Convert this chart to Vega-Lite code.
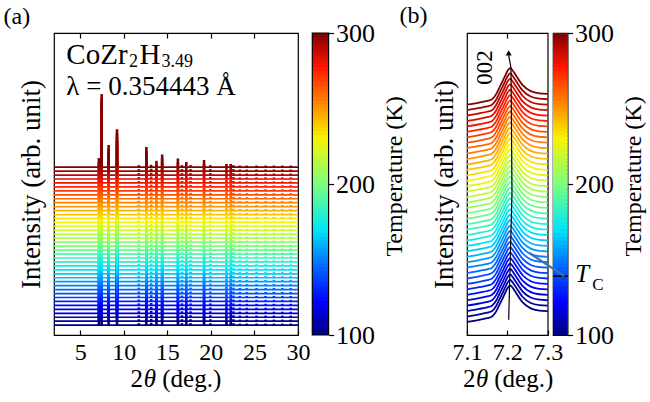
{
  "$schema": "https://vega.github.io/schema/vega-lite/v6.json",
  "background": "white",
  "padding": {"left": 2, "top": 3, "right": 0, "bottom": 0},
  "config": {
    "font": "Liberation Serif",
    "view": {"stroke": "black", "strokeWidth": 1.2},
    "axis": {
      "grid": false, "domain": false, "labelFont": "Liberation Serif", "titleFont": "Liberation Serif",
      "labelFontSize": 24, "titleFontSize": 25, "titleFontWeight": "normal",
      "labelColor": "black", "titleColor": "black", "tickColor": "black", "tickWidth": 1.2,
      "labelFlush": false, "labelOverlap": false
    },
    "text": {"font": "Liberation Serif", "color": "black"}
  },
  "datasets": {
    "peaksA": [
      {"pk": "a", "px": 7.15}, {"pk": "b", "px": 7.47}, {"pk": "c", "px": 8.27}, {"pk": "d", "px": 9.23},
      {"pk": "e", "px": 11.73}, {"pk": "f", "px": 12.6}, {"pk": "g", "px": 13.15}, {"pk": "h", "px": 13.76},
      {"pk": "i", "px": 14.41}, {"pk": "j", "px": 16.22}, {"pk": "k", "px": 16.68}, {"pk": "l", "px": 17.18},
      {"pk": "m", "px": 17.67}, {"pk": "n", "px": 19.22}, {"pk": "o", "px": 19.94}, {"pk": "p", "px": 21.79},
      {"pk": "q", "px": 22.28}, {"pk": "r", "px": 22.59}, {"pk": "s", "px": 23.32}, {"pk": "t", "px": 24.12},
      {"pk": "u", "px": 25.24}, {"pk": "v", "px": 26.28}, {"pk": "w", "px": 27.23}, {"pk": "x", "px": 28.2},
      {"pk": "y", "px": 29.16}
    ],
    "curvesA": [
      {"T":100,"B":2.5,"a":4.8,"b":21,"c":8.1,"d":12.1,"e":3,"f":7.6,"g":3.1,"h":4.1,"i":5.7,"j":4.7,"k":3,"l":3.8,"m":3,"n":4.3,"o":3,"p":3.3,"q":3.3,"r":3,"s":2.9,"t":2.9,"u":2.9,"v":2.9,"w":2.9,"x":2.9,"y":2.9},
      {"T":105,"B":3.5,"a":5.8,"b":22,"c":9.1,"d":13.1,"e":4,"f":8.6,"g":4.1,"h":5.1,"i":6.7,"j":5.7,"k":4,"l":4.8,"m":4,"n":5.3,"o":4,"p":4.3,"q":4.3,"r":4,"s":3.9,"t":3.9,"u":3.9,"v":3.9,"w":3.9,"x":3.9,"y":3.9},
      {"T":110,"B":4.5,"a":6.8,"b":23,"c":10.1,"d":14.1,"e":5,"f":9.6,"g":5.1,"h":6.1,"i":7.7,"j":6.7,"k":5,"l":5.8,"m":5,"n":6.3,"o":5,"p":5.3,"q":5.3,"r":5,"s":4.9,"t":4.9,"u":4.9,"v":4.9,"w":4.9,"x":4.9,"y":4.9},
      {"T":115,"B":5.5,"a":7.8,"b":24,"c":11.1,"d":15.1,"e":6,"f":10.6,"g":6.1,"h":7.1,"i":8.7,"j":7.7,"k":6,"l":6.8,"m":6,"n":7.3,"o":6,"p":6.3,"q":6.3,"r":6,"s":5.9,"t":5.9,"u":5.9,"v":5.9,"w":5.9,"x":5.9,"y":5.9},
      {"T":120,"B":6.5,"a":8.8,"b":25,"c":12.1,"d":16.1,"e":7,"f":11.6,"g":7.1,"h":8.1,"i":9.7,"j":8.7,"k":7,"l":7.8,"m":7,"n":8.3,"o":7,"p":7.3,"q":7.3,"r":7,"s":6.9,"t":6.9,"u":6.9,"v":6.9,"w":6.9,"x":6.9,"y":6.9},
      {"T":125,"B":7.5,"a":9.8,"b":26,"c":13.1,"d":17.1,"e":8,"f":12.6,"g":8.1,"h":9.1,"i":10.7,"j":9.7,"k":8,"l":8.8,"m":8,"n":9.3,"o":8,"p":8.3,"q":8.3,"r":8,"s":7.9,"t":7.9,"u":7.9,"v":7.9,"w":7.9,"x":7.9,"y":7.9},
      {"T":130,"B":8.5,"a":10.8,"b":27,"c":14.1,"d":18.1,"e":9,"f":13.6,"g":9.1,"h":10.1,"i":11.7,"j":10.7,"k":9,"l":9.8,"m":9,"n":10.3,"o":9,"p":9.3,"q":9.3,"r":9,"s":8.9,"t":8.9,"u":8.9,"v":8.9,"w":8.9,"x":8.9,"y":8.9},
      {"T":135,"B":9.5,"a":11.8,"b":28,"c":15.1,"d":19.1,"e":10,"f":14.6,"g":10.1,"h":11.1,"i":12.7,"j":11.7,"k":10,"l":10.8,"m":10,"n":11.3,"o":10,"p":10.3,"q":10.3,"r":10,"s":9.9,"t":9.9,"u":9.9,"v":9.9,"w":9.9,"x":9.9,"y":9.9},
      {"T":140,"B":10.5,"a":12.8,"b":29,"c":16.1,"d":20.1,"e":11,"f":15.6,"g":11.1,"h":12.1,"i":13.7,"j":12.7,"k":11,"l":11.8,"m":11,"n":12.3,"o":11,"p":11.3,"q":11.3,"r":11,"s":10.9,"t":10.9,"u":10.9,"v":10.9,"w":10.9,"x":10.9,"y":10.9},
      {"T":145,"B":11.5,"a":13.8,"b":30,"c":17.1,"d":21.1,"e":12,"f":16.6,"g":12.1,"h":13.1,"i":14.7,"j":13.7,"k":12,"l":12.8,"m":12,"n":13.3,"o":12,"p":12.3,"q":12.3,"r":12,"s":11.9,"t":11.9,"u":11.9,"v":11.9,"w":11.9,"x":11.9,"y":11.9},
      {"T":150,"B":12.5,"a":14.8,"b":31,"c":18.1,"d":22.1,"e":13,"f":17.6,"g":13.1,"h":14.1,"i":15.7,"j":14.7,"k":13,"l":13.8,"m":13,"n":14.3,"o":13,"p":13.3,"q":13.3,"r":13,"s":12.9,"t":12.9,"u":12.9,"v":12.9,"w":12.9,"x":12.9,"y":12.9},
      {"T":155,"B":13.5,"a":15.8,"b":32,"c":19.1,"d":23.1,"e":14,"f":18.6,"g":14.1,"h":15.1,"i":16.7,"j":15.7,"k":14,"l":14.8,"m":14,"n":15.3,"o":14,"p":14.3,"q":14.3,"r":14,"s":13.9,"t":13.9,"u":13.9,"v":13.9,"w":13.9,"x":13.9,"y":13.9},
      {"T":160,"B":14.5,"a":16.8,"b":33,"c":20.1,"d":24.1,"e":15,"f":19.6,"g":15.1,"h":16.1,"i":17.7,"j":16.7,"k":15,"l":15.8,"m":15,"n":16.3,"o":15,"p":15.3,"q":15.3,"r":15,"s":14.9,"t":14.9,"u":14.9,"v":14.9,"w":14.9,"x":14.9,"y":14.9},
      {"T":165,"B":15.5,"a":17.8,"b":34,"c":21.1,"d":25.1,"e":16,"f":20.6,"g":16.1,"h":17.1,"i":18.7,"j":17.7,"k":16,"l":16.8,"m":16,"n":17.3,"o":16,"p":16.3,"q":16.3,"r":16,"s":15.9,"t":15.9,"u":15.9,"v":15.9,"w":15.9,"x":15.9,"y":15.9},
      {"T":170,"B":16.5,"a":18.8,"b":35,"c":22.1,"d":26.1,"e":17,"f":21.6,"g":17.1,"h":18.1,"i":19.7,"j":18.7,"k":17,"l":17.8,"m":17,"n":18.3,"o":17,"p":17.3,"q":17.3,"r":17,"s":16.9,"t":16.9,"u":16.9,"v":16.9,"w":16.9,"x":16.9,"y":16.9},
      {"T":175,"B":17.5,"a":19.8,"b":36,"c":23.1,"d":27.1,"e":18,"f":22.6,"g":18.1,"h":19.1,"i":20.7,"j":19.7,"k":18,"l":18.8,"m":18,"n":19.3,"o":18,"p":18.3,"q":18.3,"r":18,"s":17.9,"t":17.9,"u":17.9,"v":17.9,"w":17.9,"x":17.9,"y":17.9},
      {"T":180,"B":18.5,"a":20.8,"b":37,"c":24.1,"d":28.1,"e":19,"f":23.6,"g":19.1,"h":20.1,"i":21.7,"j":20.7,"k":19,"l":19.8,"m":19,"n":20.3,"o":19,"p":19.3,"q":19.3,"r":19,"s":18.9,"t":18.9,"u":18.9,"v":18.9,"w":18.9,"x":18.9,"y":18.9},
      {"T":185,"B":19.5,"a":21.8,"b":38,"c":25.1,"d":29.1,"e":20,"f":24.6,"g":20.1,"h":21.1,"i":22.7,"j":21.7,"k":20,"l":20.8,"m":20,"n":21.3,"o":20,"p":20.3,"q":20.3,"r":20,"s":19.9,"t":19.9,"u":19.9,"v":19.9,"w":19.9,"x":19.9,"y":19.9},
      {"T":190,"B":20.5,"a":22.8,"b":39,"c":26.1,"d":30.1,"e":21,"f":25.6,"g":21.1,"h":22.1,"i":23.7,"j":22.7,"k":21,"l":21.8,"m":21,"n":22.3,"o":21,"p":21.3,"q":21.3,"r":21,"s":20.9,"t":20.9,"u":20.9,"v":20.9,"w":20.9,"x":20.9,"y":20.9},
      {"T":195,"B":21.5,"a":23.8,"b":40,"c":27.1,"d":31.1,"e":22,"f":26.6,"g":22.1,"h":23.1,"i":24.7,"j":23.7,"k":22,"l":22.8,"m":22,"n":23.3,"o":22,"p":22.3,"q":22.3,"r":22,"s":21.9,"t":21.9,"u":21.9,"v":21.9,"w":21.9,"x":21.9,"y":21.9},
      {"T":200,"B":22.5,"a":24.8,"b":41,"c":28.1,"d":32.1,"e":23,"f":27.6,"g":23.1,"h":24.1,"i":25.7,"j":24.7,"k":23,"l":23.8,"m":23,"n":24.3,"o":23,"p":23.3,"q":23.3,"r":23,"s":22.9,"t":22.9,"u":22.9,"v":22.9,"w":22.9,"x":22.9,"y":22.9},
      {"T":205,"B":23.5,"a":25.8,"b":42,"c":29.1,"d":33.1,"e":24,"f":28.6,"g":24.1,"h":25.1,"i":26.7,"j":25.7,"k":24,"l":24.8,"m":24,"n":25.3,"o":24,"p":24.3,"q":24.3,"r":24,"s":23.9,"t":23.9,"u":23.9,"v":23.9,"w":23.9,"x":23.9,"y":23.9},
      {"T":210,"B":24.5,"a":26.8,"b":43,"c":30.1,"d":34.1,"e":25,"f":29.6,"g":25.1,"h":26.1,"i":27.7,"j":26.7,"k":25,"l":25.8,"m":25,"n":26.3,"o":25,"p":25.3,"q":25.3,"r":25,"s":24.9,"t":24.9,"u":24.9,"v":24.9,"w":24.9,"x":24.9,"y":24.9},
      {"T":215,"B":25.5,"a":27.8,"b":44,"c":31.1,"d":35.1,"e":26,"f":30.6,"g":26.1,"h":27.1,"i":28.7,"j":27.7,"k":26,"l":26.8,"m":26,"n":27.3,"o":26,"p":26.3,"q":26.3,"r":26,"s":25.9,"t":25.9,"u":25.9,"v":25.9,"w":25.9,"x":25.9,"y":25.9},
      {"T":220,"B":26.5,"a":28.8,"b":45,"c":32.1,"d":36.1,"e":27,"f":31.6,"g":27.1,"h":28.1,"i":29.7,"j":28.7,"k":27,"l":27.8,"m":27,"n":28.3,"o":27,"p":27.3,"q":27.3,"r":27,"s":26.9,"t":26.9,"u":26.9,"v":26.9,"w":26.9,"x":26.9,"y":26.9},
      {"T":225,"B":27.5,"a":29.8,"b":46,"c":33.1,"d":37.1,"e":28,"f":32.6,"g":28.1,"h":29.1,"i":30.7,"j":29.7,"k":28,"l":28.8,"m":28,"n":29.3,"o":28,"p":28.3,"q":28.3,"r":28,"s":27.9,"t":27.9,"u":27.9,"v":27.9,"w":27.9,"x":27.9,"y":27.9},
      {"T":230,"B":28.5,"a":30.8,"b":47,"c":34.1,"d":38.1,"e":29,"f":33.6,"g":29.1,"h":30.1,"i":31.7,"j":30.7,"k":29,"l":29.8,"m":29,"n":30.3,"o":29,"p":29.3,"q":29.3,"r":29,"s":28.9,"t":28.9,"u":28.9,"v":28.9,"w":28.9,"x":28.9,"y":28.9},
      {"T":235,"B":29.5,"a":31.8,"b":48,"c":35.1,"d":39.1,"e":30,"f":34.6,"g":30.1,"h":31.1,"i":32.7,"j":31.7,"k":30,"l":30.8,"m":30,"n":31.3,"o":30,"p":30.3,"q":30.3,"r":30,"s":29.9,"t":29.9,"u":29.9,"v":29.9,"w":29.9,"x":29.9,"y":29.9},
      {"T":240,"B":30.5,"a":32.8,"b":49,"c":36.1,"d":40.1,"e":31,"f":35.6,"g":31.1,"h":32.1,"i":33.7,"j":32.7,"k":31,"l":31.8,"m":31,"n":32.3,"o":31,"p":31.3,"q":31.3,"r":31,"s":30.9,"t":30.9,"u":30.9,"v":30.9,"w":30.9,"x":30.9,"y":30.9},
      {"T":245,"B":31.5,"a":33.8,"b":50,"c":37.1,"d":41.1,"e":32,"f":36.6,"g":32.1,"h":33.1,"i":34.7,"j":33.7,"k":32,"l":32.8,"m":32,"n":33.3,"o":32,"p":32.3,"q":32.3,"r":32,"s":31.9,"t":31.9,"u":31.9,"v":31.9,"w":31.9,"x":31.9,"y":31.9},
      {"T":250,"B":32.5,"a":34.8,"b":51,"c":38.1,"d":42.1,"e":33,"f":37.6,"g":33.1,"h":34.1,"i":35.7,"j":34.7,"k":33,"l":33.8,"m":33,"n":34.3,"o":33,"p":33.3,"q":33.3,"r":33,"s":32.9,"t":32.9,"u":32.9,"v":32.9,"w":32.9,"x":32.9,"y":32.9},
      {"T":255,"B":33.5,"a":35.8,"b":52,"c":39.1,"d":43.1,"e":34,"f":38.6,"g":34.1,"h":35.1,"i":36.7,"j":35.7,"k":34,"l":34.8,"m":34,"n":35.3,"o":34,"p":34.3,"q":34.3,"r":34,"s":33.9,"t":33.9,"u":33.9,"v":33.9,"w":33.9,"x":33.9,"y":33.9},
      {"T":260,"B":34.5,"a":36.8,"b":53,"c":40.1,"d":44.1,"e":35,"f":39.6,"g":35.1,"h":36.1,"i":37.7,"j":36.7,"k":35,"l":35.8,"m":35,"n":36.3,"o":35,"p":35.3,"q":35.3,"r":35,"s":34.9,"t":34.9,"u":34.9,"v":34.9,"w":34.9,"x":34.9,"y":34.9},
      {"T":265,"B":35.5,"a":37.8,"b":54,"c":41.1,"d":45.1,"e":36,"f":40.6,"g":36.1,"h":37.1,"i":38.7,"j":37.7,"k":36,"l":36.8,"m":36,"n":37.3,"o":36,"p":36.3,"q":36.3,"r":36,"s":35.9,"t":35.9,"u":35.9,"v":35.9,"w":35.9,"x":35.9,"y":35.9},
      {"T":270,"B":36.5,"a":38.8,"b":55,"c":42.1,"d":46.1,"e":37,"f":41.6,"g":37.1,"h":38.1,"i":39.7,"j":38.7,"k":37,"l":37.8,"m":37,"n":38.3,"o":37,"p":37.3,"q":37.3,"r":37,"s":36.9,"t":36.9,"u":36.9,"v":36.9,"w":36.9,"x":36.9,"y":36.9},
      {"T":275,"B":37.5,"a":39.8,"b":56,"c":43.1,"d":47.1,"e":38,"f":42.6,"g":38.1,"h":39.1,"i":40.7,"j":39.7,"k":38,"l":38.8,"m":38,"n":39.3,"o":38,"p":38.3,"q":38.3,"r":38,"s":37.9,"t":37.9,"u":37.9,"v":37.9,"w":37.9,"x":37.9,"y":37.9},
      {"T":280,"B":38.5,"a":40.8,"b":57,"c":44.1,"d":48.1,"e":39,"f":43.6,"g":39.1,"h":40.1,"i":41.7,"j":40.7,"k":39,"l":39.8,"m":39,"n":40.3,"o":39,"p":39.3,"q":39.3,"r":39,"s":38.9,"t":38.9,"u":38.9,"v":38.9,"w":38.9,"x":38.9,"y":38.9},
      {"T":285,"B":39.5,"a":41.8,"b":58,"c":45.1,"d":49.1,"e":40,"f":44.6,"g":40.1,"h":41.1,"i":42.7,"j":41.7,"k":40,"l":40.8,"m":40,"n":41.3,"o":40,"p":40.3,"q":40.3,"r":40,"s":39.9,"t":39.9,"u":39.9,"v":39.9,"w":39.9,"x":39.9,"y":39.9},
      {"T":290,"B":40.5,"a":42.8,"b":59,"c":46.1,"d":50.1,"e":41,"f":45.6,"g":41.1,"h":42.1,"i":43.7,"j":42.7,"k":41,"l":41.8,"m":41,"n":42.3,"o":41,"p":41.3,"q":41.3,"r":41,"s":40.9,"t":40.9,"u":40.9,"v":40.9,"w":40.9,"x":40.9,"y":40.9},
      {"T":295,"B":41.5,"a":43.8,"b":60,"c":47.1,"d":51.1,"e":42,"f":46.6,"g":42.1,"h":43.1,"i":44.7,"j":43.7,"k":42,"l":42.8,"m":42,"n":43.3,"o":42,"p":42.3,"q":42.3,"r":42,"s":41.9,"t":41.9,"u":41.9,"v":41.9,"w":41.9,"x":41.9,"y":41.9},
      {"T":300,"B":42.5,"a":44.8,"b":61,"c":48.1,"d":52.1,"e":43,"f":47.6,"g":43.1,"h":44.1,"i":45.7,"j":44.7,"k":43,"l":43.8,"m":43,"n":44.3,"o":43,"p":43.3,"q":43.3,"r":43,"s":42.9,"t":42.9,"u":42.9,"v":42.9,"w":42.9,"x":42.9,"y":42.9}
    ],
    "ptsB": [
      {"pk": "a", "x": 7.1}, {"pk": "b", "x": 7.13}, {"pk": "c", "x": 7.15}, {"pk": "d", "x": 7.162},
      {"pk": "e", "x": 7.172}, {"pk": "f", "x": 7.18}, {"pk": "g", "x": 7.188}, {"pk": "h", "x": 7.195},
      {"pk": "i", "x": 7.201}, {"pk": "j", "x": 7.207}, {"pk": "k", "x": 7.214}, {"pk": "l", "x": 7.222},
      {"pk": "m", "x": 7.238}, {"pk": "n", "x": 7.258}, {"pk": "o", "x": 7.279}, {"pk": "p", "x": 7.3}
    ],
    "curvesB": [
      {"T":100,"a":2.4,"b":2.8,"c":3.1,"d":3.4,"e":4.3,"f":5.5,"g":6.7,"h":7.8,"i":8.7,"j":9.15,"k":8.6,"l":7.7,"m":6,"n":4.9,"o":4.5,"p":4.4},
      {"T":105,"a":3.4,"b":3.8,"c":4.1,"d":4.4,"e":5.3,"f":6.5,"g":7.7,"h":8.8,"i":9.7,"j":10.15,"k":9.6,"l":8.7,"m":7,"n":5.9,"o":5.5,"p":5.4},
      {"T":110,"a":4.4,"b":4.8,"c":5.1,"d":5.4,"e":6.3,"f":7.5,"g":8.7,"h":9.8,"i":10.7,"j":11.15,"k":10.6,"l":9.7,"m":8,"n":6.9,"o":6.5,"p":6.4},
      {"T":115,"a":5.4,"b":5.8,"c":6.1,"d":6.4,"e":7.3,"f":8.5,"g":9.7,"h":10.8,"i":11.7,"j":12.15,"k":11.6,"l":10.7,"m":9,"n":7.9,"o":7.5,"p":7.4},
      {"T":120,"a":6.4,"b":6.8,"c":7.1,"d":7.4,"e":8.3,"f":9.5,"g":10.7,"h":11.8,"i":12.7,"j":13.15,"k":12.6,"l":11.7,"m":10,"n":8.9,"o":8.5,"p":8.4},
      {"T":125,"a":7.4,"b":7.8,"c":8.1,"d":8.4,"e":9.3,"f":10.5,"g":11.7,"h":12.8,"i":13.7,"j":14.15,"k":13.6,"l":12.7,"m":11,"n":9.9,"o":9.5,"p":9.4},
      {"T":130,"a":8.4,"b":8.8,"c":9.1,"d":9.4,"e":10.3,"f":11.5,"g":12.7,"h":13.8,"i":14.7,"j":15.15,"k":14.6,"l":13.7,"m":12,"n":10.9,"o":10.5,"p":10.4},
      {"T":135,"a":9.4,"b":9.8,"c":10.1,"d":10.4,"e":11.3,"f":12.5,"g":13.7,"h":14.8,"i":15.7,"j":16.15,"k":15.6,"l":14.7,"m":13,"n":11.9,"o":11.5,"p":11.4},
      {"T":140,"a":10.4,"b":10.8,"c":11.1,"d":11.4,"e":12.3,"f":13.5,"g":14.7,"h":15.8,"i":16.7,"j":17.15,"k":16.6,"l":15.7,"m":14,"n":12.9,"o":12.5,"p":12.4},
      {"T":145,"a":11.4,"b":11.8,"c":12.1,"d":12.4,"e":13.3,"f":14.5,"g":15.7,"h":16.8,"i":17.7,"j":18.15,"k":17.6,"l":16.7,"m":15,"n":13.9,"o":13.5,"p":13.4},
      {"T":150,"a":12.4,"b":12.8,"c":13.1,"d":13.4,"e":14.3,"f":15.5,"g":16.7,"h":17.8,"i":18.7,"j":19.15,"k":18.6,"l":17.7,"m":16,"n":14.9,"o":14.5,"p":14.4},
      {"T":155,"a":13.4,"b":13.8,"c":14.1,"d":14.4,"e":15.3,"f":16.5,"g":17.7,"h":18.8,"i":19.7,"j":20.15,"k":19.6,"l":18.7,"m":17,"n":15.9,"o":15.5,"p":15.4},
      {"T":160,"a":14.4,"b":14.8,"c":15.1,"d":15.4,"e":16.3,"f":17.5,"g":18.7,"h":19.8,"i":20.7,"j":21.15,"k":20.6,"l":19.7,"m":18,"n":16.9,"o":16.5,"p":16.4},
      {"T":165,"a":15.4,"b":15.8,"c":16.1,"d":16.4,"e":17.3,"f":18.5,"g":19.7,"h":20.8,"i":21.7,"j":22.15,"k":21.6,"l":20.7,"m":19,"n":17.9,"o":17.5,"p":17.4},
      {"T":170,"a":16.4,"b":16.8,"c":17.1,"d":17.4,"e":18.3,"f":19.5,"g":20.7,"h":21.8,"i":22.7,"j":23.15,"k":22.6,"l":21.7,"m":20,"n":18.9,"o":18.5,"p":18.4},
      {"T":175,"a":17.4,"b":17.8,"c":18.1,"d":18.4,"e":19.3,"f":20.5,"g":21.7,"h":22.8,"i":23.7,"j":24.15,"k":23.6,"l":22.7,"m":21,"n":19.9,"o":19.5,"p":19.4},
      {"T":180,"a":18.4,"b":18.8,"c":19.1,"d":19.4,"e":20.3,"f":21.5,"g":22.7,"h":23.8,"i":24.7,"j":25.15,"k":24.6,"l":23.7,"m":22,"n":20.9,"o":20.5,"p":20.4},
      {"T":185,"a":19.4,"b":19.8,"c":20.1,"d":20.4,"e":21.3,"f":22.5,"g":23.7,"h":24.8,"i":25.7,"j":26.15,"k":25.6,"l":24.7,"m":23,"n":21.9,"o":21.5,"p":21.4},
      {"T":190,"a":20.4,"b":20.8,"c":21.1,"d":21.4,"e":22.3,"f":23.5,"g":24.7,"h":25.8,"i":26.7,"j":27.15,"k":26.6,"l":25.7,"m":24,"n":22.9,"o":22.5,"p":22.4},
      {"T":195,"a":21.4,"b":21.8,"c":22.1,"d":22.4,"e":23.3,"f":24.5,"g":25.7,"h":26.8,"i":27.7,"j":28.15,"k":27.6,"l":26.7,"m":25,"n":23.9,"o":23.5,"p":23.4},
      {"T":200,"a":22.4,"b":22.8,"c":23.1,"d":23.4,"e":24.3,"f":25.5,"g":26.7,"h":27.8,"i":28.7,"j":29.15,"k":28.6,"l":27.7,"m":26,"n":24.9,"o":24.5,"p":24.4},
      {"T":205,"a":23.4,"b":23.8,"c":24.1,"d":24.4,"e":25.3,"f":26.5,"g":27.7,"h":28.8,"i":29.7,"j":30.15,"k":29.6,"l":28.7,"m":27,"n":25.9,"o":25.5,"p":25.4},
      {"T":210,"a":24.4,"b":24.8,"c":25.1,"d":25.4,"e":26.3,"f":27.5,"g":28.7,"h":29.8,"i":30.7,"j":31.15,"k":30.6,"l":29.7,"m":28,"n":26.9,"o":26.5,"p":26.4},
      {"T":215,"a":25.4,"b":25.8,"c":26.1,"d":26.4,"e":27.3,"f":28.5,"g":29.7,"h":30.8,"i":31.7,"j":32.15,"k":31.6,"l":30.7,"m":29,"n":27.9,"o":27.5,"p":27.4},
      {"T":220,"a":26.4,"b":26.8,"c":27.1,"d":27.4,"e":28.3,"f":29.5,"g":30.7,"h":31.8,"i":32.7,"j":33.15,"k":32.6,"l":31.7,"m":30,"n":28.9,"o":28.5,"p":28.4},
      {"T":225,"a":27.4,"b":27.8,"c":28.1,"d":28.4,"e":29.3,"f":30.5,"g":31.7,"h":32.8,"i":33.7,"j":34.15,"k":33.6,"l":32.7,"m":31,"n":29.9,"o":29.5,"p":29.4},
      {"T":230,"a":28.4,"b":28.8,"c":29.1,"d":29.4,"e":30.3,"f":31.5,"g":32.7,"h":33.8,"i":34.7,"j":35.15,"k":34.6,"l":33.7,"m":32,"n":30.9,"o":30.5,"p":30.4},
      {"T":235,"a":29.4,"b":29.8,"c":30.1,"d":30.4,"e":31.3,"f":32.5,"g":33.7,"h":34.8,"i":35.7,"j":36.15,"k":35.6,"l":34.7,"m":33,"n":31.9,"o":31.5,"p":31.4},
      {"T":240,"a":30.4,"b":30.8,"c":31.1,"d":31.4,"e":32.3,"f":33.5,"g":34.7,"h":35.8,"i":36.7,"j":37.15,"k":36.6,"l":35.7,"m":34,"n":32.9,"o":32.5,"p":32.4},
      {"T":245,"a":31.4,"b":31.8,"c":32.1,"d":32.4,"e":33.3,"f":34.5,"g":35.7,"h":36.8,"i":37.7,"j":38.15,"k":37.6,"l":36.7,"m":35,"n":33.9,"o":33.5,"p":33.4},
      {"T":250,"a":32.4,"b":32.8,"c":33.1,"d":33.4,"e":34.3,"f":35.5,"g":36.7,"h":37.8,"i":38.7,"j":39.15,"k":38.6,"l":37.7,"m":36,"n":34.9,"o":34.5,"p":34.4},
      {"T":255,"a":33.4,"b":33.8,"c":34.1,"d":34.4,"e":35.3,"f":36.5,"g":37.7,"h":38.8,"i":39.7,"j":40.15,"k":39.6,"l":38.7,"m":37,"n":35.9,"o":35.5,"p":35.4},
      {"T":260,"a":34.4,"b":34.8,"c":35.1,"d":35.4,"e":36.3,"f":37.5,"g":38.7,"h":39.8,"i":40.7,"j":41.15,"k":40.6,"l":39.7,"m":38,"n":36.9,"o":36.5,"p":36.4},
      {"T":265,"a":35.4,"b":35.8,"c":36.1,"d":36.4,"e":37.3,"f":38.5,"g":39.7,"h":40.8,"i":41.7,"j":42.15,"k":41.6,"l":40.7,"m":39,"n":37.9,"o":37.5,"p":37.4},
      {"T":270,"a":36.4,"b":36.8,"c":37.1,"d":37.4,"e":38.3,"f":39.5,"g":40.7,"h":41.8,"i":42.7,"j":43.15,"k":42.6,"l":41.7,"m":40,"n":38.9,"o":38.5,"p":38.4},
      {"T":275,"a":37.4,"b":37.8,"c":38.1,"d":38.4,"e":39.3,"f":40.5,"g":41.7,"h":42.8,"i":43.7,"j":44.15,"k":43.6,"l":42.7,"m":41,"n":39.9,"o":39.5,"p":39.4},
      {"T":280,"a":38.4,"b":38.8,"c":39.1,"d":39.4,"e":40.3,"f":41.5,"g":42.7,"h":43.8,"i":44.7,"j":45.15,"k":44.6,"l":43.7,"m":42,"n":40.9,"o":40.5,"p":40.4},
      {"T":285,"a":39.4,"b":39.8,"c":40.1,"d":40.4,"e":41.3,"f":42.5,"g":43.7,"h":44.8,"i":45.7,"j":46.15,"k":45.6,"l":44.7,"m":43,"n":41.9,"o":41.5,"p":41.4},
      {"T":290,"a":40.4,"b":40.8,"c":41.1,"d":41.4,"e":42.3,"f":43.5,"g":44.7,"h":45.8,"i":46.7,"j":47.15,"k":46.6,"l":45.7,"m":44,"n":42.9,"o":42.5,"p":42.4},
      {"T":295,"a":41.4,"b":41.8,"c":42.1,"d":42.4,"e":43.3,"f":44.5,"g":45.7,"h":46.8,"i":47.7,"j":48.15,"k":47.6,"l":46.7,"m":45,"n":43.9,"o":43.5,"p":43.4},
      {"T":300,"a":42.4,"b":42.8,"c":43.1,"d":43.4,"e":44.3,"f":45.5,"g":46.7,"h":47.8,"i":48.7,"j":49.15,"k":48.6,"l":47.7,"m":46,"n":44.9,"o":44.5,"p":44.4}
    ],
    "trace": [
      {"x": 7.2033, "y": 2.8}, {"x": 7.2115, "y": 26.3}, {"x": 7.209, "y": 49.2}, {"x": 7.2033, "y": 51.5}
    ],
    "bar": [
      {"lo":100,"hi":103.5,"T":101.25},{"lo":102.5,"hi":106,"T":103.75},{"lo":105,"hi":108.5,"T":106.25},{"lo":107.5,"hi":111,"T":108.75},
      {"lo":110,"hi":113.5,"T":111.25},{"lo":112.5,"hi":116,"T":113.75},{"lo":115,"hi":118.5,"T":116.25},{"lo":117.5,"hi":121,"T":118.75},
      {"lo":120,"hi":123.5,"T":121.25},{"lo":122.5,"hi":126,"T":123.75},{"lo":125,"hi":128.5,"T":126.25},{"lo":127.5,"hi":131,"T":128.75},
      {"lo":130,"hi":133.5,"T":131.25},{"lo":132.5,"hi":136,"T":133.75},{"lo":135,"hi":138.5,"T":136.25},{"lo":137.5,"hi":141,"T":138.75},
      {"lo":140,"hi":143.5,"T":141.25},{"lo":142.5,"hi":146,"T":143.75},{"lo":145,"hi":148.5,"T":146.25},{"lo":147.5,"hi":151,"T":148.75},
      {"lo":150,"hi":153.5,"T":151.25},{"lo":152.5,"hi":156,"T":153.75},{"lo":155,"hi":158.5,"T":156.25},{"lo":157.5,"hi":161,"T":158.75},
      {"lo":160,"hi":163.5,"T":161.25},{"lo":162.5,"hi":166,"T":163.75},{"lo":165,"hi":168.5,"T":166.25},{"lo":167.5,"hi":171,"T":168.75},
      {"lo":170,"hi":173.5,"T":171.25},{"lo":172.5,"hi":176,"T":173.75},{"lo":175,"hi":178.5,"T":176.25},{"lo":177.5,"hi":181,"T":178.75},
      {"lo":180,"hi":183.5,"T":181.25},{"lo":182.5,"hi":186,"T":183.75},{"lo":185,"hi":188.5,"T":186.25},{"lo":187.5,"hi":191,"T":188.75},
      {"lo":190,"hi":193.5,"T":191.25},{"lo":192.5,"hi":196,"T":193.75},{"lo":195,"hi":198.5,"T":196.25},{"lo":197.5,"hi":201,"T":198.75},
      {"lo":200,"hi":203.5,"T":201.25},{"lo":202.5,"hi":206,"T":203.75},{"lo":205,"hi":208.5,"T":206.25},{"lo":207.5,"hi":211,"T":208.75},
      {"lo":210,"hi":213.5,"T":211.25},{"lo":212.5,"hi":216,"T":213.75},{"lo":215,"hi":218.5,"T":216.25},{"lo":217.5,"hi":221,"T":218.75},
      {"lo":220,"hi":223.5,"T":221.25},{"lo":222.5,"hi":226,"T":223.75},{"lo":225,"hi":228.5,"T":226.25},{"lo":227.5,"hi":231,"T":228.75},
      {"lo":230,"hi":233.5,"T":231.25},{"lo":232.5,"hi":236,"T":233.75},{"lo":235,"hi":238.5,"T":236.25},{"lo":237.5,"hi":241,"T":238.75},
      {"lo":240,"hi":243.5,"T":241.25},{"lo":242.5,"hi":246,"T":243.75},{"lo":245,"hi":248.5,"T":246.25},{"lo":247.5,"hi":251,"T":248.75},
      {"lo":250,"hi":253.5,"T":251.25},{"lo":252.5,"hi":256,"T":253.75},{"lo":255,"hi":258.5,"T":256.25},{"lo":257.5,"hi":261,"T":258.75},
      {"lo":260,"hi":263.5,"T":261.25},{"lo":262.5,"hi":266,"T":263.75},{"lo":265,"hi":268.5,"T":266.25},{"lo":267.5,"hi":271,"T":268.75},
      {"lo":270,"hi":273.5,"T":271.25},{"lo":272.5,"hi":276,"T":273.75},{"lo":275,"hi":278.5,"T":276.25},{"lo":277.5,"hi":281,"T":278.75},
      {"lo":280,"hi":283.5,"T":281.25},{"lo":282.5,"hi":286,"T":283.75},{"lo":285,"hi":288.5,"T":286.25},{"lo":287.5,"hi":291,"T":288.75},
      {"lo":290,"hi":293.5,"T":291.25},{"lo":292.5,"hi":296,"T":293.75},{"lo":295,"hi":298.5,"T":296.25},{"lo":297.5,"hi":300,"T":298.75}
    ]
  },
  "resolve": {"scale": {"x": "independent", "y": "independent"}},
  "bounds": "flush",
  "spacing": 5,
  "hconcat": [
    {
      "width": 244,
      "height": 302,
      "resolve": {"axis": {"x": "independent"}},
      "layer": [
        {
          "data": {"name": "curvesA"},
          "mark": {"type": "rule", "strokeWidth": 1.7},
          "encoding": {
            "x": {"datum": 2, "type": "quantitative", "scale": {"domain": [2, 30], "nice": false, "zero": false},
              "axis": {"orient": "bottom", "values": [5, 10, 15, 20, 25, 30], "tickSize": -5, "labelPadding": 10, "title": null}},
            "x2": {"datum": 30},
            "y": {"field": "B", "type": "quantitative", "scale": {"domain": [0, 76.46], "nice": false, "zero": false},
              "axis": {"ticks": false, "labels": false, "title": "Intensity (arb. unit)", "titleFontSize": 27, "titlePadding": 9}},
            "color": {"field": "T", "type": "quantitative", "legend": null,
              "scale": {"domain": [100, 122, 147, 170, 200, 230, 254, 278, 300], "range": ["#00007f", "#0000ff", "#0070ff", "#00e6f7", "#7bff7b", "#f7f500", "#ff8400", "#ff1300", "#7f0000"], "interpolate": "rgb"}}
          }
        },
        {
          "data": {"name": "curvesA"},
          "transform": [
            {"fold": ["a","b","c","d","e","f","g","h","i","j","k","l","m","n","o","p","q","r","s","t","u","v","w","x","y"], "as": ["pk", "top"]},
            {"lookup": "pk", "from": {"data": {"name": "peaksA"}, "key": "pk", "fields": ["px"]}}
          ],
          "mark": {"type": "rule", "strokeWidth": 2.6},
          "encoding": {
            "x": {"field": "px", "type": "quantitative",
              "axis": {"orient": "top", "values": [5, 10, 15, 20, 25], "labels": false, "tickSize": -5, "title": null}},
            "y": {"field": "B", "type": "quantitative"},
            "y2": {"field": "top"},
            "color": {"field": "T", "type": "quantitative", "legend": null,
              "scale": {"domain": [100, 122, 147, 170, 200, 230, 254, 278, 300], "range": ["#00007f", "#0000ff", "#0070ff", "#00e6f7", "#7bff7b", "#f7f500", "#ff8400", "#ff1300", "#7f0000"], "interpolate": "rgb"}}
          }
        },
        {
          "data": {"values": [{}]},
          "mark": {"type": "text", "text": "(a)", "fontSize": 24, "align": "center", "baseline": "middle"},
          "encoding": {"x": {"datum": -2.263, "type": "quantitative", "axis": null}, "y": {"datum": 80.63, "type": "quantitative"}}
        },
        {
          "data": {"values": [{}]},
          "mark": {"type": "text", "text": "CoZr", "fontSize": 29, "align": "left", "baseline": "alphabetic"},
          "encoding": {"x": {"datum": 3.417, "type": "quantitative", "axis": null}, "y": {"datum": 68.68, "type": "quantitative"}}
        },
        {
          "data": {"values": [{}]},
          "mark": {"type": "text", "text": "2", "fontSize": 18, "align": "left", "baseline": "alphabetic"},
          "encoding": {"x": {"datum": 10.62, "type": "quantitative", "axis": null}, "y": {"datum": 67.85, "type": "quantitative"}}
        },
        {
          "data": {"values": [{}]},
          "mark": {"type": "text", "text": "H", "fontSize": 29, "align": "left", "baseline": "alphabetic"},
          "encoding": {"x": {"datum": 11.8, "type": "quantitative", "axis": null}, "y": {"datum": 68.68, "type": "quantitative"}}
        },
        {
          "data": {"values": [{}]},
          "mark": {"type": "text", "text": "3.49", "fontSize": 18, "align": "left", "baseline": "alphabetic"},
          "encoding": {"x": {"datum": 14.35, "type": "quantitative", "axis": null}, "y": {"datum": 67.85, "type": "quantitative"}}
        },
        {
          "data": {"values": [{}]},
          "mark": {"type": "text", "text": "λ = 0.354443 Å", "fontSize": 27, "align": "left", "baseline": "alphabetic"},
          "encoding": {"x": {"datum": 3.417, "type": "quantitative", "axis": null}, "y": {"datum": 60.76, "type": "quantitative"}}
        },
        {
          "data": {"values": [{}]},
          "mark": {"type": "text", "text": "2", "fontSize": 25, "align": "left", "baseline": "alphabetic"},
          "encoding": {"x": {"datum": 10.79, "type": "quantitative", "axis": null}, "y": {"datum": -13.16, "type": "quantitative"}}
        },
        {
          "data": {"values": [{}]},
          "mark": {"type": "text", "text": "θ", "fontSize": 25, "fontStyle": "italic", "align": "left", "baseline": "alphabetic"},
          "encoding": {"x": {"datum": 12.3, "type": "quantitative", "axis": null}, "y": {"datum": -13.16, "type": "quantitative"}}
        },
        {
          "data": {"values": [{}]},
          "mark": {"type": "text", "text": "(deg.)", "fontSize": 25, "align": "left", "baseline": "alphabetic"},
          "encoding": {"x": {"datum": 14.42, "type": "quantitative", "axis": null}, "y": {"datum": -13.16, "type": "quantitative"}}
        }
      ]
    },
    {
      "width": 25.6,
      "height": 302,
      "view": {"stroke": null},
      "layer": [
        {
          "data": {"name": "bar"},
          "mark": {"type": "rect"},
          "encoding": {
            "x": {"datum": 0.363, "type": "quantitative", "scale": {"domain": [0, 1], "nice": false, "zero": false}, "axis": null},
            "x2": {"datum": 1},
            "y": {"field": "lo", "type": "quantitative", "scale": {"domain": [100, 300], "nice": false, "zero": false},
              "axis": {"orient": "right", "values": [100, 200, 300], "tickSize": 5, "labelPadding": 2, "labelFontSize": 26,
                "title": "Temperature (K)", "titleFontSize": 24, "titleAngle": 270, "titleBaseline": "top", "titlePadding": 8, "titleY": 143}},
            "y2": {"field": "hi"},
            "color": {"field": "T", "type": "quantitative", "legend": null,
              "scale": {"domain": [100, 122, 147, 170, 200, 230, 254, 278, 300], "range": ["#00007f", "#0000ff", "#0070ff", "#00e6f7", "#7bff7b", "#f7f500", "#ff8400", "#ff1300", "#7f0000"], "interpolate": "rgb"}}
          }
        },
        {
          "data": {"values": [{}]},
          "mark": {"type": "rect", "filled": false, "stroke": "black", "strokeWidth": 1.2},
          "encoding": {
            "x": {"datum": 0.363, "type": "quantitative", "axis": null}, "x2": {"datum": 1},
            "y": {"datum": 100, "type": "quantitative"}, "y2": {"datum": 300}
          }
        }
      ]
    },
    {
      "width": 127.7,
      "height": 302,
      "view": {"stroke": null},
      "data": {"values": []},
      "mark": "point",
      "encoding": {}
    },
    {
      "width": 80.7,
      "height": 302,
      "resolve": {"axis": {"x": "independent"}},
      "layer": [
        {
          "data": {"name": "curvesB"},
          "transform": [
            {"fold": ["a","b","c","d","e","f","g","h","i","j","k","l","m","n","o","p"], "as": ["pk", "v"]},
            {"lookup": "pk", "from": {"data": {"name": "ptsB"}, "key": "pk", "fields": ["x"]}}
          ],
          "mark": {"type": "line", "strokeWidth": 1.8, "interpolate": "monotone"},
          "encoding": {
            "x": {"field": "x", "type": "quantitative", "scale": {"domain": [7.1, 7.3], "nice": false, "zero": false},
              "axis": {"orient": "bottom", "values": [7.1, 7.2, 7.3], "format": ".1f", "tickSize": -5, "labelPadding": 10, "title": null}},
            "y": {"field": "v", "type": "quantitative", "scale": {"domain": [0, 55.6], "nice": false, "zero": false},
              "axis": {"ticks": false, "labels": false, "title": "Intensity (arb. unit)", "titleFontSize": 27, "titlePadding": 9}},
            "detail": {"field": "T"},
            "color": {"field": "T", "type": "quantitative", "legend": null,
              "scale": {"domain": [100, 122, 147, 170, 200, 230, 254, 278, 300], "range": ["#00007f", "#0000ff", "#0070ff", "#00e6f7", "#7bff7b", "#f7f500", "#ff8400", "#ff1300", "#7f0000"], "interpolate": "rgb"}}
          }
        },
        {
          "data": {"name": "trace"},
          "mark": {"type": "line", "color": "black", "strokeWidth": 1.2},
          "encoding": {
            "x": {"field": "x", "type": "quantitative",
              "axis": {"orient": "top", "values": [7.2], "labels": false, "tickSize": -5, "title": null}},
            "y": {"field": "y", "type": "quantitative"},
            "order": {"field": "y"}
          }
        },
        {
          "data": {"values": [{}]},
          "mark": {"type": "point", "shape": "triangle-up", "filled": true, "color": "black", "size": 35, "opacity": 1},
          "encoding": {"x": {"datum": 7.2033, "type": "quantitative", "axis": null}, "y": {"datum": 51.93, "type": "quantitative"}}
        },
        {
          "data": {"values": [{}]},
          "mark": {"type": "text", "text": "002", "fontSize": 23, "angle": 270, "align": "center", "baseline": "middle"},
          "encoding": {"x": {"datum": 7.1446, "type": "quantitative", "axis": null}, "y": {"datum": 49.26, "type": "quantitative"}}
        },
        {
          "data": {"values": [{}]},
          "mark": {"type": "text", "text": "(b)", "fontSize": 24, "align": "center", "baseline": "middle"},
          "encoding": {"x": {"datum": 6.9674, "type": "quantitative", "axis": null}, "y": {"datum": 58.66, "type": "quantitative"}}
        },
        {
          "data": {"values": [{}]},
          "mark": {"type": "text", "text": "2", "fontSize": 25, "align": "left", "baseline": "alphabetic"},
          "encoding": {"x": {"datum": 7.0901, "type": "quantitative", "axis": null}, "y": {"datum": -9.58, "type": "quantitative"}}
        },
        {
          "data": {"values": [{}]},
          "mark": {"type": "text", "text": "θ", "fontSize": 25, "fontStyle": "italic", "align": "left", "baseline": "alphabetic"},
          "encoding": {"x": {"datum": 7.1225, "type": "quantitative", "axis": null}, "y": {"datum": -9.58, "type": "quantitative"}}
        },
        {
          "data": {"values": [{}]},
          "mark": {"type": "text", "text": "(deg.)", "fontSize": 25, "align": "left", "baseline": "alphabetic"},
          "encoding": {"x": {"datum": 7.1675, "type": "quantitative", "axis": null}, "y": {"datum": -9.58, "type": "quantitative"}}
        }
      ]
    },
    {
      "width": 14.6,
      "height": 302,
      "layer": [
        {
          "data": {"name": "bar"},
          "mark": {"type": "rect"},
          "encoding": {
            "x": {"datum": 0, "type": "quantitative", "scale": {"domain": [0, 1], "nice": false, "zero": false}, "axis": null},
            "x2": {"datum": 1},
            "y": {"field": "lo", "type": "quantitative", "scale": {"domain": [100, 300], "nice": false, "zero": false},
              "axis": {"orient": "right", "values": [100, 200, 300], "tickSize": 5, "labelPadding": 2, "labelFontSize": 26,
                "title": "Temperature (K)", "titleFontSize": 24, "titleAngle": 270, "titleBaseline": "top", "titlePadding": 8, "titleY": 143}},
            "y2": {"field": "hi"},
            "color": {"field": "T", "type": "quantitative", "legend": null,
              "scale": {"domain": [100, 122, 147, 170, 200, 230, 254, 278, 300], "range": ["#00007f", "#0000ff", "#0070ff", "#00e6f7", "#7bff7b", "#f7f500", "#ff8400", "#ff1300", "#7f0000"], "interpolate": "rgb"}}
          }
        },
        {
          "data": {"values": [{}]},
          "mark": {"type": "rule", "color": "black", "strokeWidth": 1.5},
          "encoding": {
            "x": {"datum": 0, "type": "quantitative", "axis": null}, "x2": {"datum": 1},
            "y": {"datum": 139, "type": "quantitative"}
          }
        },
        {
          "data": {"values": [{}]},
          "mark": {"type": "rule", "color": "#3a74b0", "strokeWidth": 2.2},
          "encoding": {
            "x": {"datum": -1.623, "type": "quantitative", "axis": null}, "x2": {"datum": 0.774},
            "y": {"datum": 154.3, "type": "quantitative"}, "y2": {"datum": 139.1}
          }
        },
        {
          "data": {"values": [{}]},
          "mark": {"type": "text", "text": "T", "fontSize": 25, "fontStyle": "italic", "align": "left", "baseline": "alphabetic"},
          "encoding": {"x": {"datum": 1.527, "type": "quantitative", "axis": null}, "y": {"datum": 135.1, "type": "quantitative"}}
        },
        {
          "data": {"values": [{}]},
          "mark": {"type": "text", "text": "C", "fontSize": 17, "align": "left", "baseline": "alphabetic"},
          "encoding": {"x": {"datum": 2.692, "type": "quantitative", "axis": null}, "y": {"datum": 129.8, "type": "quantitative"}}
        }
      ]
    }
  ]
}
